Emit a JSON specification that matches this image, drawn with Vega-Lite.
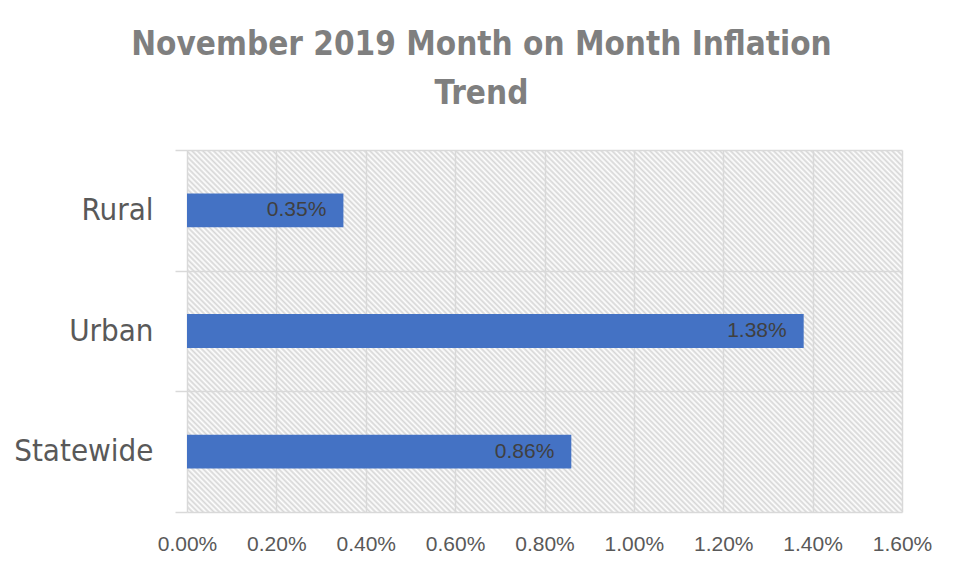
{
"$schema": "https://vega.github.io/schema/vega-lite/v6.json",
"width": 715, "height": 362,
"autosize": {"type": "none"},
"padding": {"left": 187, "top": 150, "right": 60, "bottom": 63},
"background": "white",
"title": {"text": ["November 2019 Month on Month Inflation", "Trend"], "font": "DejaVu Sans Condensed, Liberation Sans", "fontSize": 33, "fontWeight": "bold", "color": "#7f7f7f", "lineHeight": 49, "anchor": "middle", "frame": "group", "dx": -63, "offset": 23},
"data": {"values": [
{"region": "Rural", "value": 0.0035},
{"region": "Urban", "value": 0.0138},
{"region": "Statewide", "value": 0.0086}
]},
"encoding": {
"y": {"field": "region", "type": "nominal", "sort": null, "scale": {"padding": 0},
 "axis": {"title": null, "tickBand": "extent", "grid": true, "gridColor": "#d9d9d9", "gridWidth": 1.5, "tickColor": "#d9d9d9", "tickWidth": 1.5, "tickSize": 12, "domain": false, "labelFont": "DejaVu Sans Condensed, Liberation Sans", "labelFontSize": 31, "labelColor": "#595959", "labelPadding": 22}},
"x": {"field": "value", "type": "quantitative", "scale": {"domain": [0, 0.016], "nice": false},
 "axis": {"title": null, "values": [0, 0.002, 0.004, 0.006, 0.008, 0.01, 0.012, 0.014, 0.016], "format": ".2%", "labelFlush": false, "grid": true, "gridColor": "#d9d9d9", "gridWidth": 1.5, "ticks": false, "domain": false, "labelFont": "Liberation Sans", "labelFontSize": 21, "labelColor": "#595959", "labelPadding": 21}}
},
"layer": [
{"mark": {"type": "bar", "color": "#4472c4", "height": {"band": 0.28}}},
{"mark": {"type": "text", "align": "right", "baseline": "middle", "dx": -17, "font": "Liberation Sans", "fontSize": 21, "color": "#404040"},
 "encoding": {"text": {"field": "value", "type": "quantitative", "format": ".2%"}}}
],
"config": {"view": {"stroke": null, "fill": {"gradient": "linear", "x1": 0, "y1": 1, "x2": 1.199, "y2": 0.393, "stops": [
{"offset":0,"color":"#d6d6d6"},{"offset":0.0025,"color":"#fff"},{"offset":0.005,"color":"#d6d6d6"},{"offset":0.0075,"color":"#fff"},
{"offset":0.01,"color":"#d6d6d6"},{"offset":0.0125,"color":"#fff"},{"offset":0.015,"color":"#d6d6d6"},{"offset":0.0175,"color":"#fff"},
{"offset":0.02,"color":"#d6d6d6"},{"offset":0.0225,"color":"#fff"},{"offset":0.025,"color":"#d6d6d6"},{"offset":0.0275,"color":"#fff"},
{"offset":0.03,"color":"#d6d6d6"},{"offset":0.0325,"color":"#fff"},{"offset":0.035,"color":"#d6d6d6"},{"offset":0.0375,"color":"#fff"},
{"offset":0.04,"color":"#d6d6d6"},{"offset":0.0425,"color":"#fff"},{"offset":0.045,"color":"#d6d6d6"},{"offset":0.0475,"color":"#fff"},
{"offset":0.05,"color":"#d6d6d6"},{"offset":0.0525,"color":"#fff"},{"offset":0.055,"color":"#d6d6d6"},{"offset":0.0575,"color":"#fff"},
{"offset":0.06,"color":"#d6d6d6"},{"offset":0.0625,"color":"#fff"},{"offset":0.065,"color":"#d6d6d6"},{"offset":0.0675,"color":"#fff"},
{"offset":0.07,"color":"#d6d6d6"},{"offset":0.0725,"color":"#fff"},{"offset":0.075,"color":"#d6d6d6"},{"offset":0.0775,"color":"#fff"},
{"offset":0.08,"color":"#d6d6d6"},{"offset":0.0825,"color":"#fff"},{"offset":0.085,"color":"#d6d6d6"},{"offset":0.0875,"color":"#fff"},
{"offset":0.09,"color":"#d6d6d6"},{"offset":0.0925,"color":"#fff"},{"offset":0.095,"color":"#d6d6d6"},{"offset":0.0975,"color":"#fff"},
{"offset":0.10,"color":"#d6d6d6"},{"offset":0.1025,"color":"#fff"},{"offset":0.105,"color":"#d6d6d6"},{"offset":0.1075,"color":"#fff"},
{"offset":0.11,"color":"#d6d6d6"},{"offset":0.1125,"color":"#fff"},{"offset":0.115,"color":"#d6d6d6"},{"offset":0.1175,"color":"#fff"},
{"offset":0.12,"color":"#d6d6d6"},{"offset":0.1225,"color":"#fff"},{"offset":0.125,"color":"#d6d6d6"},{"offset":0.1275,"color":"#fff"},
{"offset":0.13,"color":"#d6d6d6"},{"offset":0.1325,"color":"#fff"},{"offset":0.135,"color":"#d6d6d6"},{"offset":0.1375,"color":"#fff"},
{"offset":0.14,"color":"#d6d6d6"},{"offset":0.1425,"color":"#fff"},{"offset":0.145,"color":"#d6d6d6"},{"offset":0.1475,"color":"#fff"},
{"offset":0.15,"color":"#d6d6d6"},{"offset":0.1525,"color":"#fff"},{"offset":0.155,"color":"#d6d6d6"},{"offset":0.1575,"color":"#fff"},
{"offset":0.16,"color":"#d6d6d6"},{"offset":0.1625,"color":"#fff"},{"offset":0.165,"color":"#d6d6d6"},{"offset":0.1675,"color":"#fff"},
{"offset":0.17,"color":"#d6d6d6"},{"offset":0.1725,"color":"#fff"},{"offset":0.175,"color":"#d6d6d6"},{"offset":0.1775,"color":"#fff"},
{"offset":0.18,"color":"#d6d6d6"},{"offset":0.1825,"color":"#fff"},{"offset":0.185,"color":"#d6d6d6"},{"offset":0.1875,"color":"#fff"},
{"offset":0.19,"color":"#d6d6d6"},{"offset":0.1925,"color":"#fff"},{"offset":0.195,"color":"#d6d6d6"},{"offset":0.1975,"color":"#fff"},
{"offset":0.20,"color":"#d6d6d6"},{"offset":0.2025,"color":"#fff"},{"offset":0.205,"color":"#d6d6d6"},{"offset":0.2075,"color":"#fff"},
{"offset":0.21,"color":"#d6d6d6"},{"offset":0.2125,"color":"#fff"},{"offset":0.215,"color":"#d6d6d6"},{"offset":0.2175,"color":"#fff"},
{"offset":0.22,"color":"#d6d6d6"},{"offset":0.2225,"color":"#fff"},{"offset":0.225,"color":"#d6d6d6"},{"offset":0.2275,"color":"#fff"},
{"offset":0.23,"color":"#d6d6d6"},{"offset":0.2325,"color":"#fff"},{"offset":0.235,"color":"#d6d6d6"},{"offset":0.2375,"color":"#fff"},
{"offset":0.24,"color":"#d6d6d6"},{"offset":0.2425,"color":"#fff"},{"offset":0.245,"color":"#d6d6d6"},{"offset":0.2475,"color":"#fff"},
{"offset":0.25,"color":"#d6d6d6"},{"offset":0.2525,"color":"#fff"},{"offset":0.255,"color":"#d6d6d6"},{"offset":0.2575,"color":"#fff"},
{"offset":0.26,"color":"#d6d6d6"},{"offset":0.2625,"color":"#fff"},{"offset":0.265,"color":"#d6d6d6"},{"offset":0.2675,"color":"#fff"},
{"offset":0.27,"color":"#d6d6d6"},{"offset":0.2725,"color":"#fff"},{"offset":0.275,"color":"#d6d6d6"},{"offset":0.2775,"color":"#fff"},
{"offset":0.28,"color":"#d6d6d6"},{"offset":0.2825,"color":"#fff"},{"offset":0.285,"color":"#d6d6d6"},{"offset":0.2875,"color":"#fff"},
{"offset":0.29,"color":"#d6d6d6"},{"offset":0.2925,"color":"#fff"},{"offset":0.295,"color":"#d6d6d6"},{"offset":0.2975,"color":"#fff"},
{"offset":0.30,"color":"#d6d6d6"},{"offset":0.3025,"color":"#fff"},{"offset":0.305,"color":"#d6d6d6"},{"offset":0.3075,"color":"#fff"},
{"offset":0.31,"color":"#d6d6d6"},{"offset":0.3125,"color":"#fff"},{"offset":0.315,"color":"#d6d6d6"},{"offset":0.3175,"color":"#fff"},
{"offset":0.32,"color":"#d6d6d6"},{"offset":0.3225,"color":"#fff"},{"offset":0.325,"color":"#d6d6d6"},{"offset":0.3275,"color":"#fff"},
{"offset":0.33,"color":"#d6d6d6"},{"offset":0.3325,"color":"#fff"},{"offset":0.335,"color":"#d6d6d6"},{"offset":0.3375,"color":"#fff"},
{"offset":0.34,"color":"#d6d6d6"},{"offset":0.3425,"color":"#fff"},{"offset":0.345,"color":"#d6d6d6"},{"offset":0.3475,"color":"#fff"},
{"offset":0.35,"color":"#d6d6d6"},{"offset":0.3525,"color":"#fff"},{"offset":0.355,"color":"#d6d6d6"},{"offset":0.3575,"color":"#fff"},
{"offset":0.36,"color":"#d6d6d6"},{"offset":0.3625,"color":"#fff"},{"offset":0.365,"color":"#d6d6d6"},{"offset":0.3675,"color":"#fff"},
{"offset":0.37,"color":"#d6d6d6"},{"offset":0.3725,"color":"#fff"},{"offset":0.375,"color":"#d6d6d6"},{"offset":0.3775,"color":"#fff"},
{"offset":0.38,"color":"#d6d6d6"},{"offset":0.3825,"color":"#fff"},{"offset":0.385,"color":"#d6d6d6"},{"offset":0.3875,"color":"#fff"},
{"offset":0.39,"color":"#d6d6d6"},{"offset":0.3925,"color":"#fff"},{"offset":0.395,"color":"#d6d6d6"},{"offset":0.3975,"color":"#fff"},
{"offset":0.40,"color":"#d6d6d6"},{"offset":0.4025,"color":"#fff"},{"offset":0.405,"color":"#d6d6d6"},{"offset":0.4075,"color":"#fff"},
{"offset":0.41,"color":"#d6d6d6"},{"offset":0.4125,"color":"#fff"},{"offset":0.415,"color":"#d6d6d6"},{"offset":0.4175,"color":"#fff"},
{"offset":0.42,"color":"#d6d6d6"},{"offset":0.4225,"color":"#fff"},{"offset":0.425,"color":"#d6d6d6"},{"offset":0.4275,"color":"#fff"},
{"offset":0.43,"color":"#d6d6d6"},{"offset":0.4325,"color":"#fff"},{"offset":0.435,"color":"#d6d6d6"},{"offset":0.4375,"color":"#fff"},
{"offset":0.44,"color":"#d6d6d6"},{"offset":0.4425,"color":"#fff"},{"offset":0.445,"color":"#d6d6d6"},{"offset":0.4475,"color":"#fff"},
{"offset":0.45,"color":"#d6d6d6"},{"offset":0.4525,"color":"#fff"},{"offset":0.455,"color":"#d6d6d6"},{"offset":0.4575,"color":"#fff"},
{"offset":0.46,"color":"#d6d6d6"},{"offset":0.4625,"color":"#fff"},{"offset":0.465,"color":"#d6d6d6"},{"offset":0.4675,"color":"#fff"},
{"offset":0.47,"color":"#d6d6d6"},{"offset":0.4725,"color":"#fff"},{"offset":0.475,"color":"#d6d6d6"},{"offset":0.4775,"color":"#fff"},
{"offset":0.48,"color":"#d6d6d6"},{"offset":0.4825,"color":"#fff"},{"offset":0.485,"color":"#d6d6d6"},{"offset":0.4875,"color":"#fff"},
{"offset":0.49,"color":"#d6d6d6"},{"offset":0.4925,"color":"#fff"},{"offset":0.495,"color":"#d6d6d6"},{"offset":0.4975,"color":"#fff"},
{"offset":0.50,"color":"#d6d6d6"},{"offset":0.5025,"color":"#fff"},{"offset":0.505,"color":"#d6d6d6"},{"offset":0.5075,"color":"#fff"},
{"offset":0.51,"color":"#d6d6d6"},{"offset":0.5125,"color":"#fff"},{"offset":0.515,"color":"#d6d6d6"},{"offset":0.5175,"color":"#fff"},
{"offset":0.52,"color":"#d6d6d6"},{"offset":0.5225,"color":"#fff"},{"offset":0.525,"color":"#d6d6d6"},{"offset":0.5275,"color":"#fff"},
{"offset":0.53,"color":"#d6d6d6"},{"offset":0.5325,"color":"#fff"},{"offset":0.535,"color":"#d6d6d6"},{"offset":0.5375,"color":"#fff"},
{"offset":0.54,"color":"#d6d6d6"},{"offset":0.5425,"color":"#fff"},{"offset":0.545,"color":"#d6d6d6"},{"offset":0.5475,"color":"#fff"},
{"offset":0.55,"color":"#d6d6d6"},{"offset":0.5525,"color":"#fff"},{"offset":0.555,"color":"#d6d6d6"},{"offset":0.5575,"color":"#fff"},
{"offset":0.56,"color":"#d6d6d6"},{"offset":0.5625,"color":"#fff"},{"offset":0.565,"color":"#d6d6d6"},{"offset":0.5675,"color":"#fff"},
{"offset":0.57,"color":"#d6d6d6"},{"offset":0.5725,"color":"#fff"},{"offset":0.575,"color":"#d6d6d6"},{"offset":0.5775,"color":"#fff"},
{"offset":0.58,"color":"#d6d6d6"},{"offset":0.5825,"color":"#fff"},{"offset":0.585,"color":"#d6d6d6"},{"offset":0.5875,"color":"#fff"},
{"offset":0.59,"color":"#d6d6d6"},{"offset":0.5925,"color":"#fff"},{"offset":0.595,"color":"#d6d6d6"},{"offset":0.5975,"color":"#fff"},
{"offset":0.60,"color":"#d6d6d6"},{"offset":0.6025,"color":"#fff"},{"offset":0.605,"color":"#d6d6d6"},{"offset":0.6075,"color":"#fff"},
{"offset":0.61,"color":"#d6d6d6"},{"offset":0.6125,"color":"#fff"},{"offset":0.615,"color":"#d6d6d6"},{"offset":0.6175,"color":"#fff"},
{"offset":0.62,"color":"#d6d6d6"},{"offset":0.6225,"color":"#fff"},{"offset":0.625,"color":"#d6d6d6"},{"offset":0.6275,"color":"#fff"},
{"offset":0.63,"color":"#d6d6d6"},{"offset":0.6325,"color":"#fff"},{"offset":0.635,"color":"#d6d6d6"},{"offset":0.6375,"color":"#fff"},
{"offset":0.64,"color":"#d6d6d6"},{"offset":0.6425,"color":"#fff"},{"offset":0.645,"color":"#d6d6d6"},{"offset":0.6475,"color":"#fff"},
{"offset":0.65,"color":"#d6d6d6"},{"offset":0.6525,"color":"#fff"},{"offset":0.655,"color":"#d6d6d6"},{"offset":0.6575,"color":"#fff"},
{"offset":0.66,"color":"#d6d6d6"},{"offset":0.6625,"color":"#fff"},{"offset":0.665,"color":"#d6d6d6"},{"offset":0.6675,"color":"#fff"},
{"offset":0.67,"color":"#d6d6d6"},{"offset":0.6725,"color":"#fff"},{"offset":0.675,"color":"#d6d6d6"},{"offset":0.6775,"color":"#fff"},
{"offset":0.68,"color":"#d6d6d6"},{"offset":0.6825,"color":"#fff"},{"offset":0.685,"color":"#d6d6d6"},{"offset":0.6875,"color":"#fff"},
{"offset":0.69,"color":"#d6d6d6"},{"offset":0.6925,"color":"#fff"},{"offset":0.695,"color":"#d6d6d6"},{"offset":0.6975,"color":"#fff"},
{"offset":0.70,"color":"#d6d6d6"},{"offset":0.7025,"color":"#fff"},{"offset":0.705,"color":"#d6d6d6"},{"offset":0.7075,"color":"#fff"},
{"offset":0.71,"color":"#d6d6d6"},{"offset":0.7125,"color":"#fff"},{"offset":0.715,"color":"#d6d6d6"},{"offset":0.7175,"color":"#fff"},
{"offset":0.72,"color":"#d6d6d6"},{"offset":0.7225,"color":"#fff"},{"offset":0.725,"color":"#d6d6d6"},{"offset":0.7275,"color":"#fff"},
{"offset":0.73,"color":"#d6d6d6"},{"offset":0.7325,"color":"#fff"},{"offset":0.735,"color":"#d6d6d6"},{"offset":0.7375,"color":"#fff"},
{"offset":0.74,"color":"#d6d6d6"},{"offset":0.7425,"color":"#fff"},{"offset":0.745,"color":"#d6d6d6"},{"offset":0.7475,"color":"#fff"},
{"offset":0.75,"color":"#d6d6d6"},{"offset":0.7525,"color":"#fff"},{"offset":0.755,"color":"#d6d6d6"},{"offset":0.7575,"color":"#fff"},
{"offset":0.76,"color":"#d6d6d6"},{"offset":0.7625,"color":"#fff"},{"offset":0.765,"color":"#d6d6d6"},{"offset":0.7675,"color":"#fff"},
{"offset":0.77,"color":"#d6d6d6"},{"offset":0.7725,"color":"#fff"},{"offset":0.775,"color":"#d6d6d6"},{"offset":0.7775,"color":"#fff"},
{"offset":0.78,"color":"#d6d6d6"},{"offset":0.7825,"color":"#fff"},{"offset":0.785,"color":"#d6d6d6"},{"offset":0.7875,"color":"#fff"},
{"offset":0.79,"color":"#d6d6d6"},{"offset":0.7925,"color":"#fff"},{"offset":0.795,"color":"#d6d6d6"},{"offset":0.7975,"color":"#fff"},
{"offset":0.80,"color":"#d6d6d6"},{"offset":0.8025,"color":"#fff"},{"offset":0.805,"color":"#d6d6d6"},{"offset":0.8075,"color":"#fff"},
{"offset":0.81,"color":"#d6d6d6"},{"offset":0.8125,"color":"#fff"},{"offset":0.815,"color":"#d6d6d6"},{"offset":0.8175,"color":"#fff"},
{"offset":0.82,"color":"#d6d6d6"},{"offset":0.8225,"color":"#fff"},{"offset":0.825,"color":"#d6d6d6"},{"offset":0.8275,"color":"#fff"},
{"offset":0.83,"color":"#d6d6d6"},{"offset":0.8325,"color":"#fff"},{"offset":0.835,"color":"#d6d6d6"},{"offset":0.8375,"color":"#fff"},
{"offset":0.84,"color":"#d6d6d6"},{"offset":0.8425,"color":"#fff"},{"offset":0.845,"color":"#d6d6d6"},{"offset":0.8475,"color":"#fff"},
{"offset":0.85,"color":"#d6d6d6"},{"offset":0.8525,"color":"#fff"},{"offset":0.855,"color":"#d6d6d6"},{"offset":0.8575,"color":"#fff"},
{"offset":0.86,"color":"#d6d6d6"},{"offset":0.8625,"color":"#fff"},{"offset":0.865,"color":"#d6d6d6"},{"offset":0.8675,"color":"#fff"},
{"offset":0.87,"color":"#d6d6d6"},{"offset":0.8725,"color":"#fff"},{"offset":0.875,"color":"#d6d6d6"},{"offset":0.8775,"color":"#fff"},
{"offset":0.88,"color":"#d6d6d6"},{"offset":0.8825,"color":"#fff"},{"offset":0.885,"color":"#d6d6d6"},{"offset":0.8875,"color":"#fff"},
{"offset":0.89,"color":"#d6d6d6"},{"offset":0.8925,"color":"#fff"},{"offset":0.895,"color":"#d6d6d6"},{"offset":0.8975,"color":"#fff"},
{"offset":0.90,"color":"#d6d6d6"},{"offset":0.9025,"color":"#fff"},{"offset":0.905,"color":"#d6d6d6"},{"offset":0.9075,"color":"#fff"},
{"offset":0.91,"color":"#d6d6d6"},{"offset":0.9125,"color":"#fff"},{"offset":0.915,"color":"#d6d6d6"},{"offset":0.9175,"color":"#fff"},
{"offset":0.92,"color":"#d6d6d6"},{"offset":0.9225,"color":"#fff"},{"offset":0.925,"color":"#d6d6d6"},{"offset":0.9275,"color":"#fff"},
{"offset":0.93,"color":"#d6d6d6"},{"offset":0.9325,"color":"#fff"},{"offset":0.935,"color":"#d6d6d6"},{"offset":0.9375,"color":"#fff"},
{"offset":0.94,"color":"#d6d6d6"},{"offset":0.9425,"color":"#fff"},{"offset":0.945,"color":"#d6d6d6"},{"offset":0.9475,"color":"#fff"},
{"offset":0.95,"color":"#d6d6d6"},{"offset":0.9525,"color":"#fff"},{"offset":0.955,"color":"#d6d6d6"},{"offset":0.9575,"color":"#fff"},
{"offset":0.96,"color":"#d6d6d6"},{"offset":0.9625,"color":"#fff"},{"offset":0.965,"color":"#d6d6d6"},{"offset":0.9675,"color":"#fff"},
{"offset":0.97,"color":"#d6d6d6"},{"offset":0.9725,"color":"#fff"},{"offset":0.975,"color":"#d6d6d6"},{"offset":0.9775,"color":"#fff"},
{"offset":0.98,"color":"#d6d6d6"},{"offset":0.9825,"color":"#fff"},{"offset":0.985,"color":"#d6d6d6"},{"offset":0.9875,"color":"#fff"},
{"offset":0.99,"color":"#d6d6d6"},{"offset":0.9925,"color":"#fff"},{"offset":0.995,"color":"#d6d6d6"},{"offset":0.9975,"color":"#fff"},
{"offset":1,"color":"#d6d6d6"}
]}}}
}
